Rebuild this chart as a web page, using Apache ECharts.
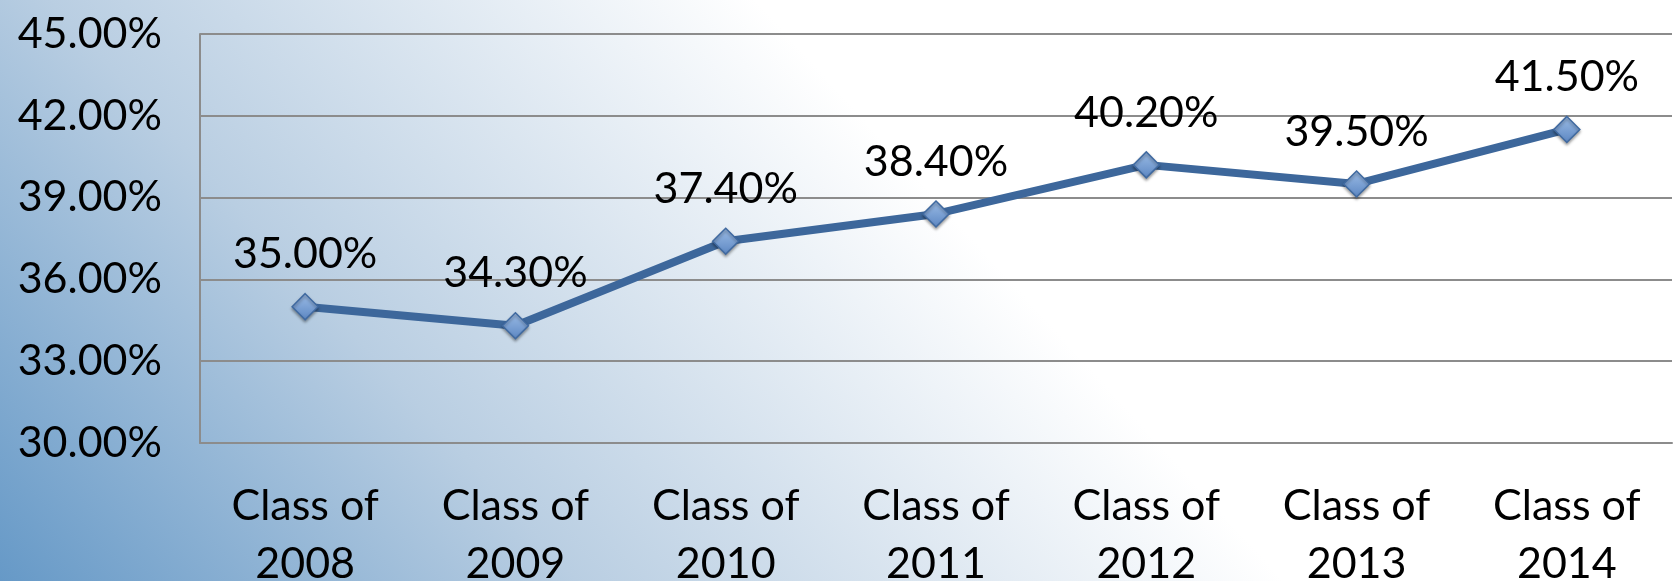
<!DOCTYPE html>
<html>
<head>
<meta charset="utf-8">
<script src="https://cdn.jsdelivr.net/npm/echarts@6/dist/echarts.min.js"></script>
<style>
  html, body { margin: 0; padding: 0; }
  #main { width: 1673px; height: 581px; }
</style>
</head>
<body>
<div id="main"></div>
<script>
var categories = ['Class of\n2008', 'Class of\n2009', 'Class of\n2010', 'Class of\n2011', 'Class of\n2012', 'Class of\n2013', 'Class of\n2014'];
var rates = [35.0, 34.3, 37.4, 38.4, 40.2, 39.5, 41.5];
var yMin = 30;
var yMax = 45;
var yStep = 3;

var dom = document.getElementById('main');
var myChart = echarts.init(dom);
var font = 'Lato';

var option = {
  backgroundColor: {
    type: 'linear',
    x: 0, y: 1, x2: 0.42, y2: -0.1,
    colorStops: [
      { offset: 0, color: '#6699c7' },
      { offset: 0.45, color: '#b9cee2' },
      { offset: 1, color: '#ffffff' }
    ]
  },
  grid: {
    left: 200,
    right: 1,
    top: 34,
    bottom: 138,
    outerBoundsMode: 'none',
    containLabel: false
  },
  xAxis: {
    type: 'category',
    data: categories,
    boundaryGap: true,
    // 轴线
    axisLine: {
      show: true,
      lineStyle: { color: '#8c8c8c', width: 2 }
    },
    axisTick: { show: false },
    axisLabel: {
      color: '#000',
      fontSize: 43,
      fontFamily: font,
      lineHeight: 58,
      margin: 34,
      interval: 0
    }
  },
  yAxis: {
    type: 'value',
    min: yMin,
    max: yMax,
    interval: yStep,
    axisLine: {
      show: true,
      lineStyle: { color: '#8c8c8c', width: 2 }
    },
    axisTick: { show: false },
    axisLabel: {
      color: '#000',
      fontSize: 43,
      fontFamily: font,
      margin: 38,
      formatter: function (v) { return v.toFixed(2) + '%'; }
    },
    // 分割线
    splitLine: {
      show: true,
      lineStyle: { color: '#8c8c8c', width: 2 }
    }
  },
  series: [
    {
      type: 'line',
      data: rates,
      symbol: 'diamond',
      symbolSize: 26,
      lineStyle: { color: '#3d679b', width: 8 },
      itemStyle: {
        color: {
          type: 'linear', x: 0, y: 0, x2: 0, y2: 1,
          colorStops: [
            { offset: 0, color: '#9dbde6' },
            { offset: 1, color: '#5b86c2' }
          ]
        },
        borderColor: '#3f69a0',
        borderWidth: 1.5,
        shadowColor: 'rgba(0,0,0,0.35)',
        shadowBlur: 3,
        shadowOffsetY: 2
      },
      label: {
        show: true,
        position: 'top',
        distance: 17,
        color: '#000',
        fontSize: 43,
        fontFamily: font,
        formatter: function (p) { return p.value.toFixed(2) + '%'; }
      },
      animation: false
    }
  ]
};

myChart.setOption(option, true);
</script>
</body>
</html>
